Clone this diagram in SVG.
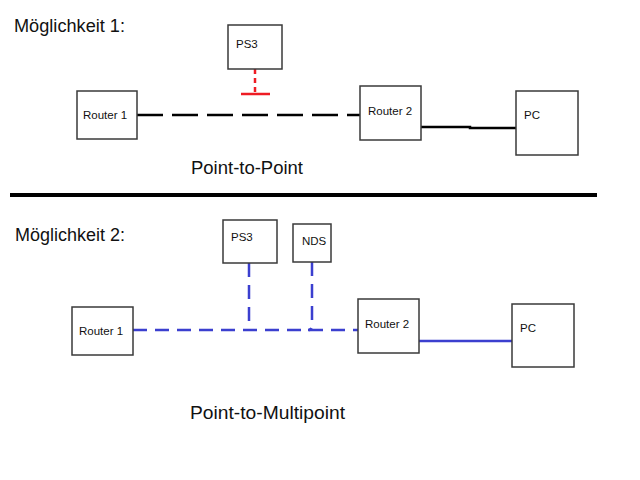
<svg xmlns="http://www.w3.org/2000/svg" width="640" height="480" viewBox="0 0 640 480">
<style>
  .box{fill:#fff;stroke:#3a3a3a;stroke-width:1.5}
  .lbl{font-family:"Liberation Sans",Arial,sans-serif;font-size:11.5px;fill:#111}
  .head{font-family:"Liberation Sans",Arial,sans-serif;font-size:17.5px;fill:#111}
  .blk{fill:none;stroke:#000;stroke-width:2.5}
  .blu{fill:none;stroke:#3b3fcf;stroke-width:2.5}
</style>
<rect width="640" height="480" fill="#fff"/>
<text class="head" x="14" y="32" textLength="111" lengthAdjust="spacingAndGlyphs">Möglichkeit 1:</text>
<text class="head" x="191" y="174" textLength="112" lengthAdjust="spacingAndGlyphs">Point-to-Point</text>
<line x1="10" y1="195" x2="597" y2="195" stroke="#000" stroke-width="4"/>
<text class="head" x="15" y="241" textLength="110" lengthAdjust="spacingAndGlyphs">Möglichkeit 2:</text>
<text class="head" x="190" y="419" textLength="155" lengthAdjust="spacingAndGlyphs">Point-to-Multipoint</text>

<g id="connectors">
  <line class="blk" x1="137" y1="115" x2="360" y2="115" stroke-dasharray="26 9"/>
  <polyline class="blk" points="421,127 470,127 470,128 519,128"/>
  <line x1="255" y1="69" x2="255" y2="93" stroke="#ee1c24" stroke-width="2.5" stroke-dasharray="5 4"/>
  <line x1="241" y1="94" x2="270" y2="94" stroke="#ee1c24" stroke-width="2.5"/>
  <line class="blu" x1="133" y1="330" x2="358" y2="330" stroke-dasharray="14 8"/>
  <line class="blu" x1="249" y1="263" x2="249" y2="330" stroke-dasharray="14 8"/>
  <path class="blu" d="M312,262 V326 Q312,330 308,330" stroke-dasharray="14 8"/>
  <line class="blu" x1="419" y1="341" x2="515" y2="341"/>
</g>

<g id="ps3-1"><rect class="box" x="228" y="25" width="54" height="44"/><text class="lbl" x="236" y="48">PS3</text></g>
<g id="router1-1"><rect class="box" x="77" y="91" width="60" height="48"/><text class="lbl" x="83" y="119">Router 1</text></g>
<g id="router2-1"><rect class="box" x="360" y="86" width="61" height="54"/><text class="lbl" x="368" y="115">Router 2</text></g>
<g id="pc-1"><rect class="box" x="516" y="91" width="62" height="64"/><text class="lbl" x="524" y="119">PC</text></g>

<g id="ps3-2"><rect class="box" x="223" y="220" width="54" height="43"/><text class="lbl" x="231" y="241">PS3</text></g>
<g id="nds-2"><rect class="box" x="293" y="224" width="38" height="38"/><text class="lbl" x="302" y="245">NDS</text></g>
<g id="router1-2"><rect class="box" x="72" y="307" width="61" height="48"/><text class="lbl" x="79" y="335">Router 1</text></g>
<g id="router2-2"><rect class="box" x="358" y="299" width="61" height="54"/><text class="lbl" x="365" y="328">Router 2</text></g>
<g id="pc-2"><rect class="box" x="512" y="304" width="62" height="63"/><text class="lbl" x="520" y="332">PC</text></g>
</svg>
